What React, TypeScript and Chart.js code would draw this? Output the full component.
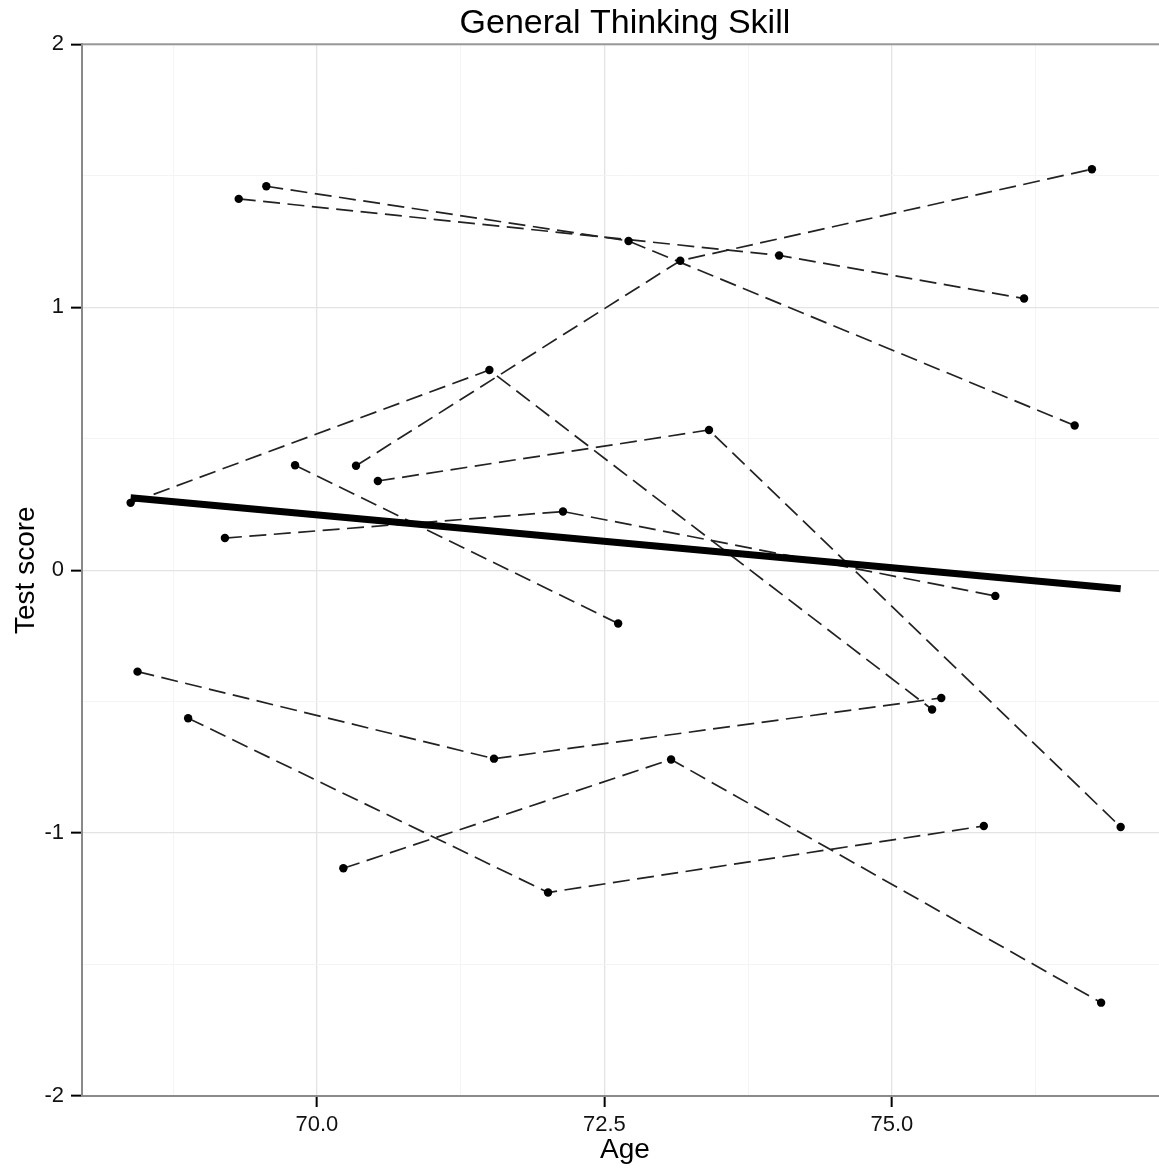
import React, { useEffect, useRef } from 'react';
import { Chart, registerables } from 'chart.js';

Chart.register(...registerables);

const FONT = '"Liberation Sans", Arial, Helvetica, sans-serif';

// ---- data ----
const S1_AGE = [68.38, 71.5, 75.35];
const S1_SCORE = [0.256, 0.761, -0.53];
const S2_AGE = [70.34, 73.16, 76.74];
const S2_SCORE = [0.397, 1.177, 1.525];
const S3_AGE = [69.56, 72.71, 76.59];
const S3_SCORE = [1.46, 1.252, 0.55];
const S4_AGE = [69.32, 74.02, 76.15];
const S4_SCORE = [1.412, 1.197, 1.033];
const S5_AGE = [70.53, 73.41, 76.99];
const S5_SCORE = [0.339, 0.533, -0.977];
const S6_AGE = [69.81, 72.62];
const S6_SCORE = [0.399, -0.203];
const S7_AGE = [69.2, 72.14, 75.9];
const S7_SCORE = [0.122, 0.223, -0.098];
const S8_AGE = [68.44, 71.54, 75.43];
const S8_SCORE = [-0.386, -0.717, -0.486];
const S9_AGE = [68.88, 72.01, 75.8];
const S9_SCORE = [-0.563, -1.226, -0.973];
const S10_AGE = [70.23, 73.08, 76.82];
const S10_SCORE = [-1.134, -0.72, -1.645];

const SUBJECTS: [number[], number[]][] = [
  [S1_AGE, S1_SCORE],
  [S2_AGE, S2_SCORE],
  [S3_AGE, S3_SCORE],
  [S4_AGE, S4_SCORE],
  [S5_AGE, S5_SCORE],
  [S6_AGE, S6_SCORE],
  [S7_AGE, S7_SCORE],
  [S8_AGE, S8_SCORE],
  [S9_AGE, S9_SCORE],
  [S10_AGE, S10_SCORE],
];

const FIT_AGE = [68.38, 76.99];
const FIT_SCORE = [0.275, -0.071];

const X_GRID = [68.75, 70, 71.25, 72.5, 73.75, 75, 76.25];
const X_LABELED = [70, 72.5, 75];
const Y_LABELED = [-2, -1, 0, 1, 2];

const X_MIN = 67.957;
const X_MAX = 77.4;
const Y_MIN = -2;
const Y_MAX = 2;

const isLabeled = (list: number[], v: number) => list.some((t) => Math.abs(t - v) < 1e-6);

const topFrame = {
  id: 'topFrame',
  beforeDatasetsDraw(chart: any) {
    const { ctx, chartArea } = chart;
    ctx.save();
    ctx.strokeStyle = '#999999';
    ctx.lineWidth = 2;
    ctx.beginPath();
    ctx.moveTo(chartArea.left, chartArea.top);
    ctx.lineTo(chartArea.right, chartArea.top);
    ctx.stroke();
    ctx.restore();
  },
};

export default function App() {
  const ref = useRef<HTMLCanvasElement>(null);

  useEffect(() => {
    if (!ref.current) return;
    const subjectSets = SUBJECTS.map(([ages, scores], i) => ({
      label: 'Subject ' + (i + 1),
      data: ages.map((a, k) => ({ x: a, y: scores[k] })),
      showLine: true,
      borderColor: '#222222',
      borderWidth: 1.7,
      borderDash: [17, 7.5],
      pointRadius: 4.2,
      pointBackgroundColor: '#000',
      pointBorderColor: '#000',
      pointBorderWidth: 0,
      pointHoverRadius: 4.2,
      order: 1,
    }));
    const fitSet = {
      label: 'Fit',
      data: FIT_AGE.map((a, k) => ({ x: a, y: FIT_SCORE[k] })),
      showLine: true,
      borderColor: '#000',
      borderWidth: 7,
      borderCapStyle: 'butt',
      pointRadius: 0,
      order: 0,
    };

    const chart = new Chart(ref.current, {
      type: 'scatter',
      data: { datasets: [fitSet as any, ...subjectSets] },
      plugins: [topFrame],
      options: {
        animation: false,
        responsive: false,
        devicePixelRatio: 1,
        events: [],
        layout: { padding: 0 },
        plugins: {
          legend: { display: false },
          tooltip: { enabled: false },
          title: {
            display: true,
            text: 'General Thinking Skill',
            fullSize: false,
            color: '#000',
            font: { family: FONT, size: 34, weight: 'normal' },
            padding: { top: 3, bottom: 0.5 },
          },
        },
        scales: {
          x: {
            type: 'linear',
            min: X_MIN,
            max: X_MAX,
            afterBuildTicks: (scale: any) => {
              scale.ticks = X_GRID.map((v) => ({ value: v }));
            },
            afterFit: (scale: any) => {
              scale.height = 74;
            },
            border: { display: true, color: '#8a8a8a', width: 2 },
            grid: {
              drawTicks: true,
              tickLength: 11,
              tickWidth: 2,
              tickColor: (c: any) => (isLabeled(X_LABELED, c.tick.value) ? '#000' : 'rgba(0,0,0,0)'),
              color: (c: any) => (c.tick && isLabeled(X_LABELED, c.tick.value) ? '#e3e3e3' : '#f4f4f4'),
              lineWidth: (c: any) => (c.tick && isLabeled(X_LABELED, c.tick.value) ? 1.3 : 1),
            },
            ticks: {
              autoSkip: false,
              maxRotation: 0,
              padding: 5,
              color: '#111',
              font: { family: FONT, size: 22 },
              callback: (v: any) => (isLabeled(X_LABELED, Number(v)) ? Number(v).toFixed(1) : ''),
            },
            title: {
              display: true,
              text: 'Age',
              color: '#000',
              font: { family: FONT, size: 28 },
              padding: { top: 0, bottom: 3 },
            },
          },
          y: {
            type: 'linear',
            min: Y_MIN,
            max: Y_MAX,
            afterFit: (scale: any) => {
              scale.width = 82;
            },
            border: { display: true, color: '#8a8a8a', width: 2 },
            grid: {
              drawTicks: true,
              tickLength: 11,
              tickWidth: 2,
              tickColor: (c: any) => (isLabeled(Y_LABELED, c.tick.value) ? '#000' : 'rgba(0,0,0,0)'),
              color: (c: any) => (c.tick && isLabeled(Y_LABELED, c.tick.value) ? '#e3e3e3' : '#f4f4f4'),
              lineWidth: (c: any) => (c.tick && isLabeled(Y_LABELED, c.tick.value) ? 1.3 : 1),
            },
            ticks: {
              stepSize: 0.5,
              autoSkip: false,
              padding: 7,
              color: '#111',
              font: { family: FONT, size: 22 },
              callback: (v: any) => (isLabeled(Y_LABELED, Number(v)) ? String(Math.round(Number(v))) : ''),
            },
            title: {
              display: true,
              text: 'Test score',
              color: '#000',
              font: { family: FONT, size: 28 },
              padding: { top: 9, bottom: 0 },
            },
          },
        },
      } as any,
    });
    return () => chart.destroy();
  }, []);

  return (
    <div
      style={{
        position: 'absolute',
        left: 0,
        top: 0,
        width: 1159,
        height: 1170,
        overflow: 'hidden',
        background: '#fff',
      }}
    >
      <canvas ref={ref} width={1172} height={1170} style={{ display: 'block', width: 1172, height: 1170 }} />
    </div>
  );
}
